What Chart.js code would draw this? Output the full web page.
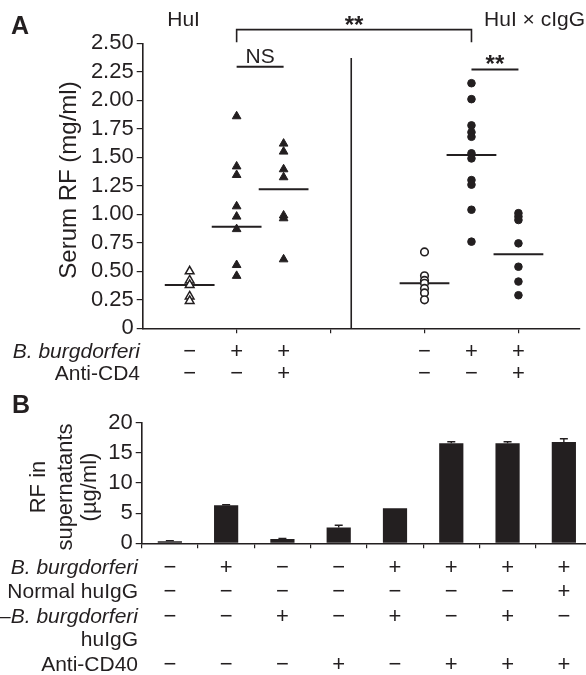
<!DOCTYPE html>
<html>
<head>
<meta charset="utf-8">
<script src="https://cdn.jsdelivr.net/npm/chart.js@4"></script>
<style>
  html, body { margin: 0; padding: 0; background: #fff; overflow: hidden; }
  #wrap { position: relative; width: 586px; height: 675px; overflow: hidden; }
  #chartA { position: absolute; left: 0; top: 0; }
  #chartB { position: absolute; left: 0; top: 385px; }
</style>
</head>
<body>
<div id="wrap">
  <canvas id="chartA" width="586" height="385"></canvas>
  <canvas id="chartB" width="592" height="290"></canvas>
</div>
<script>
// panel A: serum RF (mg/ml), one array per group
var xPosA = [1, 2, 3, 6, 7, 8];
var huiNone = [0.50, 0.42, 0.38, 0.28, 0.24];
var huiBb = [1.86, 1.42, 1.345, 1.07, 0.98, 0.87, 0.555, 0.46];
var huiBbCd4 = [1.62, 1.55, 1.395, 1.325, 0.99, 0.965, 0.605];
var cigNone = [0.67, 0.46, 0.42, 0.395, 0.35, 0.31, 0.25];
var cigBb = [2.15, 2.01, 1.78, 1.72, 1.68, 1.535, 1.49, 1.30, 1.26, 1.04, 0.76];
var cigBbCd4 = [1.01, 0.98, 0.95, 0.745, 0.54, 0.41, 0.29];
var mediansA = [0.38, 0.89, 1.22, 0.395, 1.52, 0.65];
var yTicksA = [0, 0.25, 0.5, 0.75, 1, 1.25, 1.5, 1.75, 2, 2.25, 2.5];
var rowLabelsA = ['B. burgdorferi', 'Anti-CD4'];
var rowSignsA = [
    ['−', '+', '+', '−', '+', '+'],
    ['−', '−', '+', '−', '−', '+'],
];

// panel B: RF in supernatants (µg/ml)
var barValues = [0.35, 6.3, 0.7, 2.6, 5.8, 16.6, 16.6, 16.8];
var barErrors = [0.1, 0.1, 0.1, 0.4, 0, 0.25, 0.25, 0.55];
var rowLabelsB = ['B. burgdorferi', 'Normal huIgG', '–B. burgdorferi', 'huIgG', 'Anti-CD40'];
var rowSignsB = [
    ['−', '+', '−', '−', '+', '+', '+', '+'],
    ['−', '−', '−', '−', '−', '−', '−', '+'],
    ['−', '−', '+', '−', '+', '−', '+', '−'],
    [],
    ['−', '−', '−', '+', '−', '+', '+', '+'],
];

var ink = '#231f20';
var fam = '"Liberation Sans", Arial, Helvetica, sans-serif';

function pts(x, arr) {
    return arr.map(function (v) { return { x: x, y: v }; });
}

var medianLine = [];
mediansA.forEach(function (m, i) {
    medianLine.push({ x: xPosA[i] - 0.53, y: m });
    medianLine.push({ x: xPosA[i] + 0.53, y: m });
    medianLine.push({ x: xPosA[i], y: null });
});

// brackets, texts and +/- rows for panel A
var annotA = {
    id: 'annotA',
    afterDraw: function (chart) {
        var ctx = chart.ctx, xs = chart.scales.x, ys = chart.scales.y;
        var X = function (v) { return xs.getPixelForValue(v); };
        var Y = function (v) { return ys.getPixelForValue(v); };
        ctx.save();
        ctx.strokeStyle = ink;
        ctx.fillStyle = ink;
        ctx.lineWidth = 1.6;

        // divider between the two mouse lines
        ctx.beginPath();
        ctx.moveTo(X(4.44), Y(2.37));
        ctx.lineTo(X(4.44), Y(0));
        ctx.stroke();

        // top bracket
        ctx.beginPath();
        ctx.moveTo(X(2), Y(2.51));
        ctx.lineTo(X(2), Y(2.62));
        ctx.lineTo(X(7), Y(2.62));
        ctx.lineTo(X(7), Y(2.51));
        ctx.stroke();

        ctx.lineWidth = 2;
        ctx.beginPath();
        ctx.moveTo(X(2), Y(2.295));
        ctx.lineTo(X(3), Y(2.295));
        ctx.moveTo(X(7), Y(2.27));
        ctx.lineTo(X(8), Y(2.27));
        ctx.stroke();

        ctx.textAlign = 'center';
        ctx.textBaseline = 'middle';
        ctx.font = '21px ' + fam;
        ctx.fillText('NS', X(2.5), 57);
        ctx.fillText('HuI', X(0.87), 20);
        ctx.textAlign = 'right';
        ctx.fillText('HuI × cIgG', 585, 20);

        ctx.textAlign = 'center';
        ctx.textBaseline = 'alphabetic';
        ctx.font = 'bold 24px ' + fam;
        ctx.fillText('**', X(4.5), 33);
        ctx.fillText('**', X(7.5), 72);

        ctx.textAlign = 'left';
        ctx.font = 'bold 25px ' + fam;
        ctx.fillText('A', 11, 34);

        // y title
        ctx.save();
        ctx.translate(76, 180);
        ctx.rotate(-Math.PI / 2);
        ctx.textAlign = 'center';
        ctx.font = '24px ' + fam;
        ctx.fillText('Serum RF (mg/ml)', 0, 0);
        ctx.restore();

        // treatment rows
        var rowY = [352, 374];
        ctx.textBaseline = 'middle';
        rowLabelsA.forEach(function (lab, r) {
            ctx.textAlign = 'right';
            ctx.font = (r === 0 ? 'italic ' : '') + '21px ' + fam;
            ctx.fillText(lab, 140, rowY[r]);
            ctx.textAlign = 'center';
            ctx.font = '22px ' + fam;
            rowSignsA[r].forEach(function (s, i) {
                ctx.fillText(s, X(xPosA[i]), rowY[r]);
            });
        });
        ctx.restore();
    }
};

var chartA = new Chart(document.getElementById('chartA'), {
    type: 'scatter',
    data: {
        datasets: [
            { data: pts(xPosA[0], huiNone), pointStyle: 'triangle', radius: 5, backgroundColor: '#fff', borderColor: ink, borderWidth: 1.5 },
            { data: pts(xPosA[1], huiBb).concat(pts(xPosA[2], huiBbCd4)), pointStyle: 'triangle', radius: 5, backgroundColor: ink, borderColor: ink, borderWidth: 1 },
            { data: pts(xPosA[3], cigNone), pointStyle: 'circle', radius: 3.8, backgroundColor: '#fff', borderColor: ink, borderWidth: 1.6 },
            { data: pts(xPosA[4], cigBb).concat(pts(xPosA[5], cigBbCd4)), pointStyle: 'circle', radius: 3.8, backgroundColor: ink, borderColor: ink, borderWidth: 1 },
            { data: medianLine, showLine: true, spanGaps: false, pointRadius: 0, borderColor: ink, borderWidth: 2 },
        ],
    },
    options: {
        responsive: false,
        animation: false,
        layout: { padding: { top: 43.3, left: 0, right: 0, bottom: 0 } },
        plugins: { legend: { display: false }, tooltip: { enabled: false } },
        scales: {
            x: {
                type: 'linear', min: 0, max: 9.3,
                afterBuildTicks: function (s) { s.ticks = [2, 4, 6, 8].map(function (v) { return { value: v }; }); },
                afterFit: function (s) { s.height = 56.7; },
                ticks: { display: false },
                grid: { drawOnChartArea: false, tickLength: 5, color: ink, lineWidth: 1.2 },
                border: { color: ink, width: 1.6 },
            },
            y: {
                min: 0, max: 2.5,
                afterBuildTicks: function (s) { s.ticks = yTicksA.map(function (v) { return { value: v }; }); },
                afterFit: function (s) { s.width = 142.7; },
                ticks: {
                    autoSkip: false,
                    color: ink, padding: 3, font: { family: fam, size: 22 },
                    callback: function (v) { return v === 0 ? '0' : v.toFixed(2); },
                },
                grid: { drawOnChartArea: false, tickLength: 6, color: ink, lineWidth: 1.2 },
                border: { color: ink, width: 1.6 },
            },
        },
    },
    plugins: [annotA],
});

// error bars, y title and +/- rows for panel B
var annotB = {
    id: 'annotB',
    afterDraw: function (chart) {
        var ctx = chart.ctx, xs = chart.scales.x, ys = chart.scales.y;
        var meta = chart.getDatasetMeta(0);
        ctx.save();
        ctx.strokeStyle = ink;
        ctx.fillStyle = ink;
        ctx.lineWidth = 1.4;
        barValues.forEach(function (v, i) {
            if (!barErrors[i]) return;
            var x = meta.data[i].x;
            var y0 = ys.getPixelForValue(v), y1 = ys.getPixelForValue(v + barErrors[i]);
            ctx.beginPath();
            ctx.moveTo(x, y0);
            ctx.lineTo(x, y1);
            ctx.moveTo(x - 4, y1);
            ctx.lineTo(x + 4, y1);
            ctx.stroke();
        });

        ctx.textAlign = 'left';
        ctx.textBaseline = 'alphabetic';
        ctx.font = 'bold 25px ' + fam;
        ctx.fillText('B', 12, 28);

        var titleLines = ['RF in', 'supernatants', '(µg/ml)'];
        var titleX = [45, 72, 96];
        ctx.font = '22px ' + fam;
        titleLines.forEach(function (t, i) {
            ctx.save();
            ctx.translate(titleX[i], 102);
            ctx.rotate(-Math.PI / 2);
            ctx.textAlign = 'center';
            ctx.fillText(t, 0, 0);
            ctx.restore();
        });

        var rowY = [183, 207, 232, 255, 280];
        ctx.textBaseline = 'middle';
        rowLabelsB.forEach(function (lab, r) {
            ctx.textAlign = 'right';
            ctx.font = (lab.indexOf('burgdorferi') >= 0 ? 'italic ' : '') + '21px ' + fam;
            ctx.fillText(lab, 138, rowY[r]);
            ctx.textAlign = 'center';
            ctx.font = '22px ' + fam;
            rowSignsB[r].forEach(function (s, i) {
                ctx.fillText(s, xs.getPixelForValue(i), rowY[r]);
            });
        });
        ctx.restore();
    }
};

var chartB = new Chart(document.getElementById('chartB'), {
    type: 'bar',
    data: {
        labels: barValues.map(function (v, i) { return 'c' + (i + 1); }),
        datasets: [{
            data: barValues,
            backgroundColor: ink,
            borderColor: ink,
            borderWidth: 0,
            barPercentage: 0.43,
            categoryPercentage: 1,
        }],
    },
    options: {
        responsive: false,
        animation: false,
        layout: { padding: { top: 37.7, left: 0, right: 0, bottom: 0 } },
        plugins: { legend: { display: false }, tooltip: { enabled: false } },
        scales: {
            x: {
                afterFit: function (s) { s.height = 131.7; },
                ticks: { display: false },
                grid: { drawOnChartArea: false, offset: true, tickLength: 5, color: ink, lineWidth: 1.2 },
                border: { color: ink, width: 1.6 },
            },
            y: {
                min: 0, max: 20,
                ticks: { stepSize: 5, color: ink, padding: 3, font: { family: fam, size: 22 } },
                afterFit: function (s) { s.width = 141.7; },
                grid: { drawOnChartArea: false, tickLength: 6, color: ink, lineWidth: 1.2 },
                border: { color: ink, width: 1.6 },
            },
        },
    },
    plugins: [annotB],
});
</script>
</body>
</html>
